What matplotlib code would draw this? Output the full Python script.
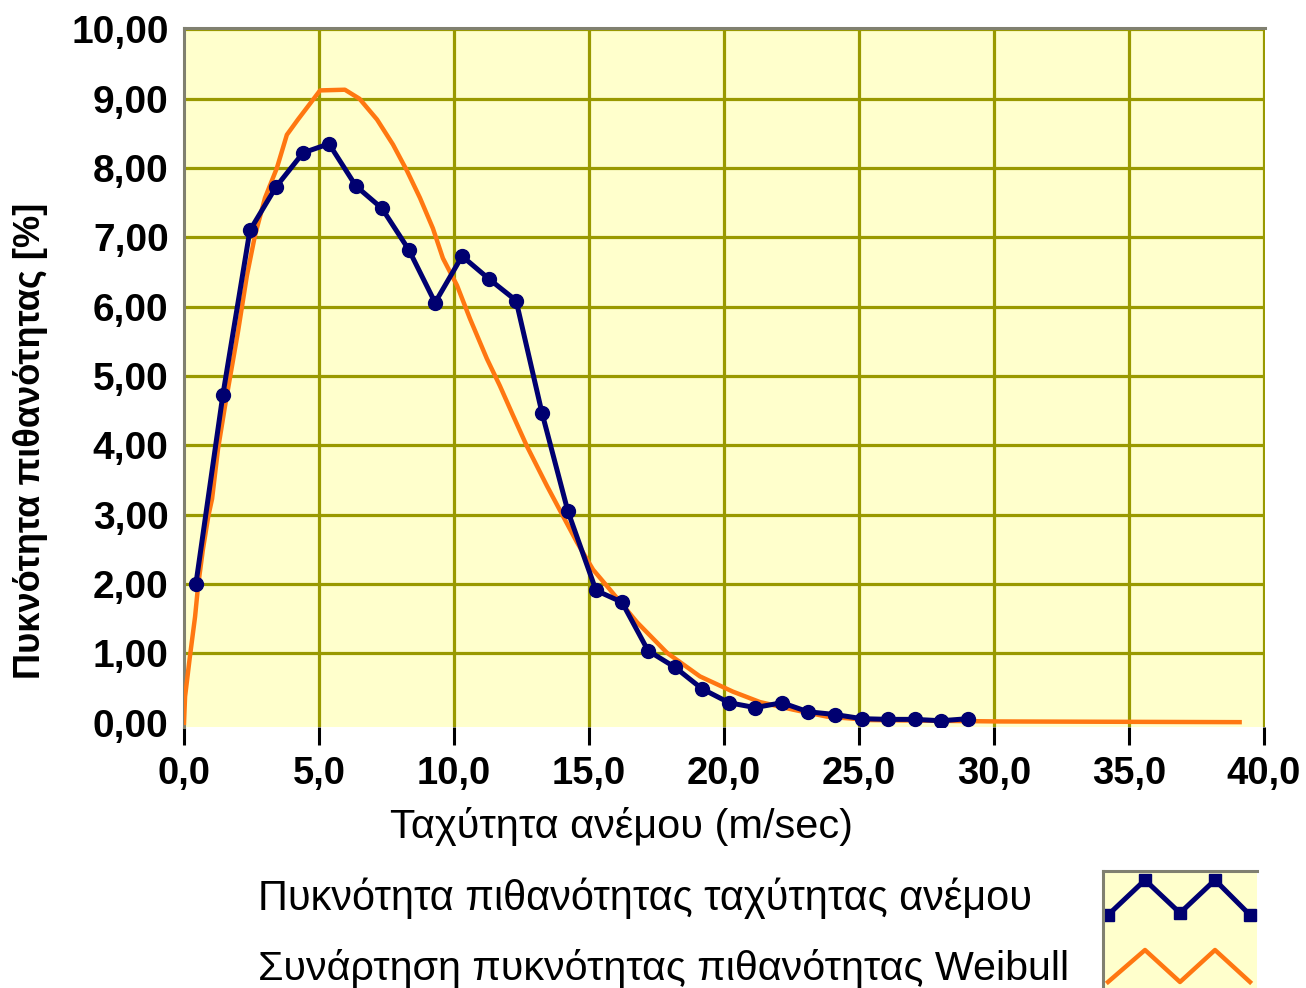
import numpy as np
import matplotlib
matplotlib.use('Agg')
import matplotlib.pyplot as plt
from matplotlib import font_manager

# μετρημένη κατανομή ταχύτητας ανέμου
speed = [0.44, 1.44, 2.44, 3.41, 4.41, 5.37, 6.37, 7.33, 8.33, 9.30,
         10.30, 11.30, 12.30, 13.26, 14.22, 15.26, 16.22, 17.19, 18.19, 19.19,
         20.19, 21.15, 22.15, 23.11, 24.11, 25.11, 26.07, 27.07, 28.04, 29.04]
density = [2.00, 4.73, 7.10, 7.73, 8.22, 8.35, 7.74, 7.42, 6.82, 6.06,
           6.73, 6.40, 6.09, 4.47, 3.05, 1.91, 1.74, 1.04, 0.80, 0.49,
           0.29, 0.22, 0.29, 0.16, 0.12, 0.06, 0.05, 0.05, 0.03, 0.06]

# καμπύλη Weibull (διαβασμένη από το σχήμα)
weib_x = [0.0, 0.04, 0.22, 0.41, 0.52, 0.70, 0.90, 1.04, 1.26, 1.52,
          2.00, 2.33, 2.63, 3.00, 3.44, 3.81, 4.22, 4.67, 5.04, 5.96,
          6.50, 7.15, 7.74, 8.26, 8.74, 9.22, 9.59, 10.11, 10.59, 11.22,
          11.70, 12.19, 12.70, 13.44, 14.04, 14.56, 15.15, 15.78, 16.78, 17.89,
          19.11, 20.33, 21.33, 22.56, 23.81, 25.40, 30.20, 39.10]
weib_y = [0.0, 0.38, 0.96, 1.53, 1.97, 2.50, 2.98, 3.23, 3.95, 4.57,
          5.64, 6.45, 7.03, 7.57, 8.00, 8.48, 8.70, 8.93, 9.12, 9.13,
          9.00, 8.70, 8.34, 7.96, 7.57, 7.13, 6.70, 6.31, 5.83, 5.25,
          4.86, 4.43, 3.99, 3.42, 2.98, 2.60, 2.21, 1.92, 1.45, 1.01,
          0.67, 0.45, 0.30, 0.19, 0.09, 0.04, 0.02, 0.01]

xticks = np.arange(0, 41, 5)
yticks = np.arange(0, 11, 1)
xlabels = [f'{v:.1f}'.replace('.', ',') for v in xticks]
ylabels = [f'{v:.2f}'.replace('.', ',') for v in yticks]

series_names = ['Πυκνότητα πιθανότητας ταχύτητας ανέμου',
                'Συνάρτηση πυκνότητας πιθανότητας Weibull']

BLUE = '#000070'
ORANGE = '#FF7711'
BG = '#FFFFCC'
GRID = '#999900'
FRAME = '#808070'


def have_font(name):
    try:
        font_manager.findfont(name, fallback_to_default=False)
        return True
    except Exception:
        return False


narrow = 'Liberation Sans Narrow' if have_font('Liberation Sans Narrow') else 'Liberation Sans'

W, H = 1306, 988
fig = plt.figure(figsize=(W / 100, H / 100), dpi=100)
ax = fig.add_axes([184 / W, 1 - 727 / H, (1265 - 184) / W, (727 - 28) / H])
ax.set_facecolor(BG)
ax.set_xlim(0, 40.04)
ax.set_ylim(-0.06, 10.02)

ax.set_xticks(xticks)
ax.set_xticklabels(xlabels, fontfamily='Liberation Sans', fontweight='bold', fontsize=27.5)
ax.set_yticks(yticks)
ax.set_yticklabels(ylabels, fontfamily='Liberation Sans', fontweight='bold', fontsize=28)
ax.tick_params(axis='x', direction='out', length=13, width=2.2, color='black', pad=8)
ax.tick_params(axis='y', length=0, pad=11)

ax.grid(True, color=GRID, lw=2.3, zorder=1)
ax.set_axisbelow(True)
ax.yaxis.get_gridlines()[0].set_visible(False)
ax.xaxis.get_gridlines()[0].set_visible(False)

for s in ['right', 'bottom']:
    ax.spines[s].set_visible(False)
for s in ['top', 'left']:
    ax.spines[s].set_color(FRAME)
    ax.spines[s].set_linewidth(2.2)

ax.plot(weib_x, weib_y, color=ORANGE, lw=3.2, zorder=3)
ax.plot(speed, density, color=BLUE, lw=3.6, marker='o', ms=10, zorder=4)

renderer = fig.canvas.get_renderer()


def fit(t, size_px, vertical=False):
    bb = t.get_window_extent(renderer)
    w = bb.height if vertical else bb.width
    t.set_fontsize(t.get_fontsize() * size_px / w)


t = fig.text(621 / W, 1 - 826 / H, 'Ταχύτητα ανέμου (m/sec)', ha='center', va='center',
             family=narrow, fontsize=30)
fit(t, 462)
t = fig.text(31 / W, 1 - 441 / H, 'Πυκνότητα πιθανότητας [%]', ha='center', va='center',
             rotation=90, family=narrow, fontweight='bold', fontsize=30)
fit(t, 477, vertical=True)
t = fig.text(258 / W, 1 - 898 / H, series_names[0], ha='left', va='center',
             family=narrow, fontsize=30)
fit(t, 774)
t = fig.text(258 / W, 1 - 968 / H, series_names[1], ha='left', va='center',
             family=narrow, fontsize=30)
fit(t, 810)

# δείγματα υπομνήματος
lax = fig.add_axes([1103 / W, 0, (1257 - 1103) / W, (988 - 871) / H])
lax.set_facecolor(BG)
lax.set_xlim(1103, 1257)
lax.set_ylim(988, 871)
lax.set_xticks([])
lax.set_yticks([])
for s in ['right', 'bottom']:
    lax.spines[s].set_visible(False)
for s in ['top', 'left']:
    lax.spines[s].set_color(FRAME)
    lax.spines[s].set_linewidth(2.2)
zx = [1108, 1145, 1180, 1215, 1250]
lax.plot(zx, [915, 880, 913, 880, 915], color=BLUE, lw=3.6, marker='s', ms=9)
lax.plot(zx, [982, 950, 982, 950, 982], color=ORANGE, lw=3.2)

fig.savefig('out.png', dpi=100)
